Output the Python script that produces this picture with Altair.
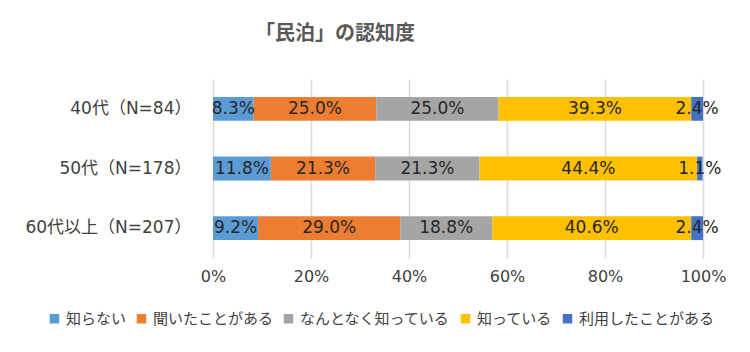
import altair as alt
import pandas as pd

groups = ["40代（N=84）", "50代（N=178）", "60代以上（N=207）"]
categories = ["知らない", "聞いたことがある", "なんとなく知っている", "知っている", "利用したことがある"]
colors = ["#5B9BD5", "#ED7D31", "#A5A5A5", "#FFC000", "#4472C4"]
values_40 = [8.3, 25.0, 25.0, 39.3, 2.4]
values_50 = [11.8, 21.3, 21.3, 44.4, 1.1]
values_60 = [9.2, 29.0, 18.8, 40.6, 2.4]

rows = []
for g, vals in zip(groups, [values_40, values_50, values_60]):
    for i, (c, v) in enumerate(zip(categories, vals)):
        rows.append({"group": g, "cat": c, "order": i, "value": v})
df = pd.DataFrame(rows)

CJK = "Noto Sans CJK JP"
MIX = "DejaVu Sans, Noto Sans CJK JP"

base = alt.Chart(df).transform_stack(
    stack="value", as_=["x0", "x1"], groupby=["group"], sort=[alt.SortField("order")]
).transform_calculate(
    mid="(datum.x0 + datum.x1) / 2",
    label="format(datum.value, '.1f') + '%'"
)

y_enc = alt.Y("group:N", sort=groups, title=None,
              scale=alt.Scale(paddingInner=0.6, paddingOuter=0.3),
              axis=alt.Axis(labelFontSize=17, labelColor="#404040", labelFont=MIX,
                            labelPadding=22, ticks=False, domain=False, labelLimit=300))

bars = base.mark_bar().encode(
    x=alt.X("x0:Q", scale=alt.Scale(domain=[0, 100]), title=None,
            axis=alt.Axis(values=[0, 20, 40, 60, 80, 100], labelExpr="datum.value + '%'",
                          labelFontSize=16, labelColor="#404040", labelFont=MIX,
                          labelPadding=10, ticks=False, domain=False, labelFlush=False,
                          gridColor="#D9D9D9", gridWidth=1.5)),
    x2="x1:Q",
    y=y_enc,
    color=alt.Color("cat:N", sort=categories,
                    scale=alt.Scale(domain=categories, range=colors),
                    legend=alt.Legend(title=None, orient="none", direction="horizontal",
                                      columns=5, legendX=-166, legendY=232,
                                      symbolType="square", symbolSize=90,
                                      symbolStrokeWidth=0, labelLimit=400,
                                      labelFontSize=15, labelFont=CJK, labelColor="#404040",
                                      columnPadding=7, labelOffset=4)),
)

texts = base.mark_text(fontSize=17, font=MIX, color="#262626").encode(
    x="mid:Q",
    y=alt.Y("group:N", sort=groups),
    text="label:N",
)

chart = (bars + texts).properties(
    width=490, height=179,
    autosize="none",
    padding={"left": 213, "top": 79, "right": 47, "bottom": 94},
    title=alt.TitleParams("「民泊」の認知度", fontSize=20, font=CJK, fontWeight="bold",
                          color="#595959", anchor="middle", dx=-123, offset=35),
).configure_view(stroke=None)

chart.save("out.html", embed_options={"renderer": "svg", "actions": False})
